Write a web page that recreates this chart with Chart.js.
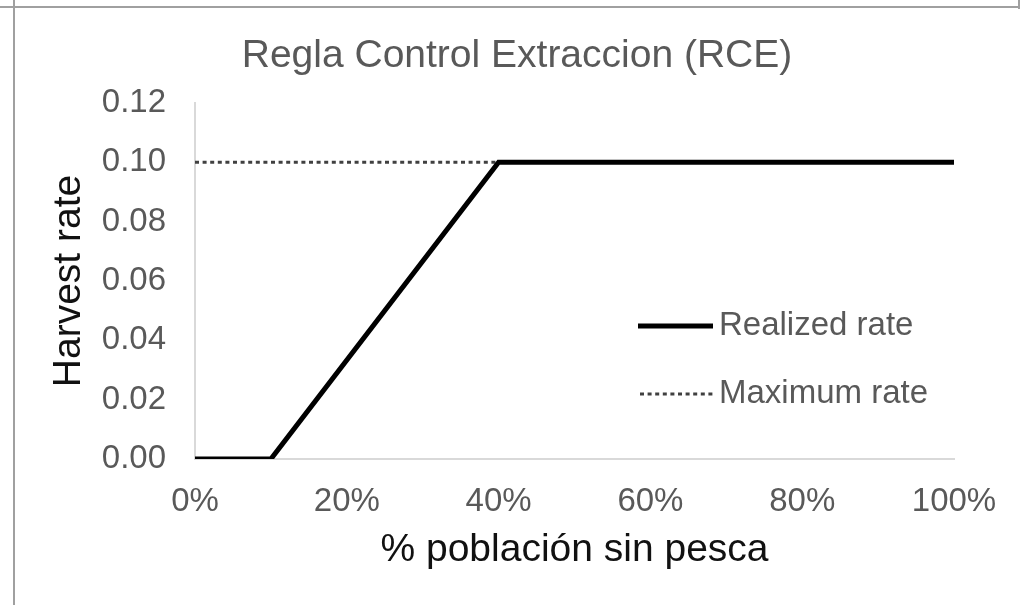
<!DOCTYPE html>
<html>
<head>
<meta charset="utf-8">
<script src="https://cdn.jsdelivr.net/npm/chart.js@4/dist/chart.umd.min.js"></script>
<style>
  html, body { margin:0; padding:0; background:#fff; }
  #wrap { position:relative; width:1022px; height:605px; overflow:hidden; }
  .frame-top { position:absolute; left:0; top:6px; width:1020px; height:0; border-top:2px solid #a0a0a0; }
  .frame-left { position:absolute; left:13px; top:0; width:0; height:605px; border-left:2px solid #a0a0a0; }
  .frame-right { position:absolute; left:1018px; top:0; width:0; height:9px; border-left:2px solid #a0a0a0; }
</style>
</head>
<body>
<div id="wrap">
  <canvas id="rce"></canvas>
  <div class="frame-top"></div>
  <div class="frame-left"></div>
  <div class="frame-right"></div>
</div>
<script>
  var TITLE = 'Regla Control Extraccion (RCE)';
  var X_TITLE = '% población sin pesca';
  var Y_TITLE = 'Harvest rate';

  // realized rate: x in % of unfished population
  var REALIZED_X = [0, 10, 40, 100];
  var REALIZED_Y = [0, 0, 0.10, 0.10];
  // maximum rate
  var MAX_X = [0, 100];
  var MAX_Y = [0.10, 0.10];

  var SERIES_NAMES = ['Realized rate', 'Maximum rate'];
  var X_TICKS = ['0%', '20%', '40%', '60%', '80%', '100%'];
  var Y_TICKS = ['0.00', '0.02', '0.04', '0.06', '0.08', '0.10', '0.12'];

  var FONT = "'Liberation Sans', Arial, sans-serif";
  var GREY = '#595959';

  function pts(xs, ys) {
    return xs.map(function(x, i){ return {x:x, y:ys[i]}; });
  }

  /* title centred on the whole picture, not on the padded box */
  var centreTitle = {
    id: 'centreTitle',
    afterDraw: function(chart) {
      var ctx = chart.ctx;
      ctx.save();
      ctx.fillStyle = GREY;
      ctx.font = '39px ' + FONT;
      ctx.textAlign = 'center';
      ctx.textBaseline = 'middle';
      ctx.fillText(TITLE, 517, 56);
      ctx.restore();
    }
  };

  /* legend drawn inside plot area, Excel style */
  var innerLegend = {
    id: 'innerLegend',
    afterDatasetsDraw: function(chart) {
      var ctx = chart.ctx;
      var rows = [{ds:0, y:326, x0:638}, {ds:1, y:394, x0:640}];
      ctx.save();
      rows.forEach(function(r) {
        var d = chart.data.datasets[r.ds];
        ctx.beginPath();
        ctx.setLineDash(d.borderDash || []);
        ctx.lineWidth = d.borderWidth;
        ctx.strokeStyle = d.borderColor;
        ctx.moveTo(r.x0, r.y);
        ctx.lineTo(713, r.y);
        ctx.stroke();
        ctx.setLineDash([]);
        ctx.fillStyle = GREY;
        ctx.font = '33px ' + FONT;
        ctx.textAlign = 'left';
        ctx.textBaseline = 'middle';
        ctx.fillText(d.label, 719, r.y);
      });
      ctx.restore();
    }
  };

  new Chart(document.getElementById('rce'), {
    type: 'line',
    data: {
      datasets: [
        {
          label: SERIES_NAMES[0],
          data: pts(REALIZED_X, REALIZED_Y),
          borderColor: '#000000',
          borderWidth: 5,
          pointRadius: 0,
          tension: 0,
          order: 0
        },
        {
          label: SERIES_NAMES[1],
          data: pts(MAX_X, MAX_Y),
          borderColor: '#404040',
          borderWidth: 3,
          borderDash: [4, 3.6],
          pointRadius: 0,
          tension: 0,
          order: 1
        }
      ]
    },
    options: {
      responsive: true,
      maintainAspectRatio: false,
      animation: false,
      layout: { padding: { left: 16, right: 68, top: 103, bottom: 0 } },
      plugins: {
        legend: { display: false },
        tooltip: { enabled: false },
        title: { display: false }
      },
      scales: {
        x: {
          type: 'linear',
          min: 0, max: 100,
          grid: { display: false },
          border: { display: true, color: '#d9d9d9', width: 2 },
          ticks: {
            stepSize: 20,
            padding: 15,
            color: GREY,
            font: { family: FONT, size: 33 },
            maxRotation: 0,
            callback: function(v, i) { return X_TICKS[i]; }
          },
          title: {
            display: true,
            text: X_TITLE,
            color: '#111',
            font: { family: FONT, size: 39 },
            padding: { top: 0, bottom: 31 }
          },
          afterFit: function(s) { s.height = 605 - 459; }
        },
        y: {
          min: 0, max: 0.12,
          grid: { display: false },
          border: { display: true, color: '#d9d9d9', width: 2 },
          ticks: {
            stepSize: 0.02,
            padding: 21,
            color: GREY,
            font: { family: FONT, size: 33 },
            callback: function(v, i) { return Y_TICKS[i]; }
          },
          title: {
            display: true,
            text: Y_TITLE,
            color: '#111',
            font: { family: FONT, size: 39 },
            padding: { top: 30, bottom: 0 }
          },
          afterFit: function(s) { s.width = 195 - 16; }
        }
      }
    },
    plugins: [innerLegend, centreTitle]
  });
</script>
</body>
</html>
